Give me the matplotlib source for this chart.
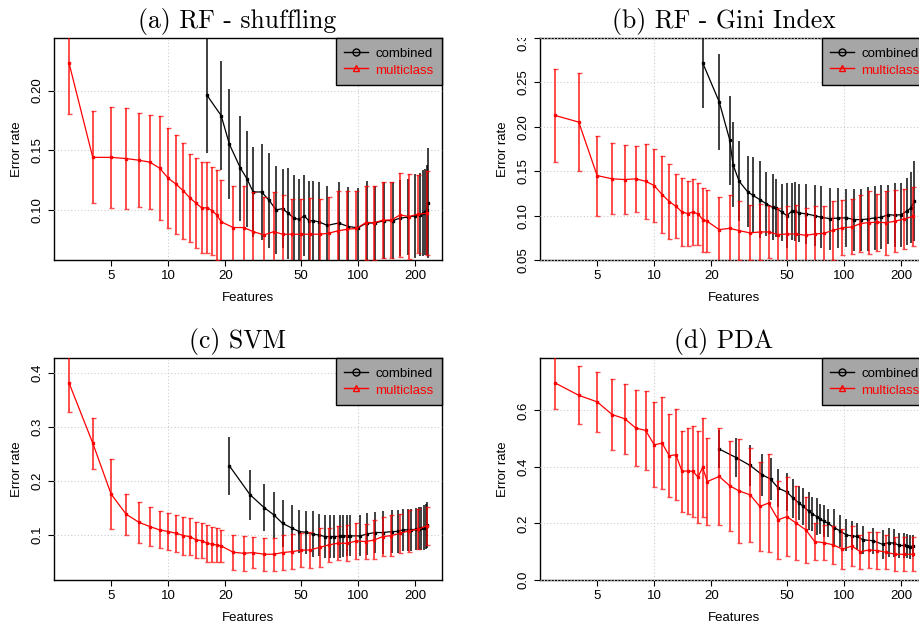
import matplotlib
matplotlib.use("Agg")
import matplotlib.pyplot as plt
from matplotlib.lines import Line2D
from matplotlib.ticker import FixedLocator, NullLocator
from matplotlib.transforms import Bbox, TransformedBbox

plt.rcParams['font.family'] = ['Liberation Sans', 'DejaVu Sans']

# -----------------------------------
# Data
# -----------------------------------
feat_multi = [3, 4, 5, 6, 7, 8, 9, 10, 11, 12, 13, 14, 15, 16, 17, 18, 19,
              22, 25, 28, 32, 36, 40, 45, 50, 56, 63, 70, 78, 88, 98, 110,
              122, 135, 150, 167, 185, 207, 230]

# (a) RF - shuffling
a_multi = [0.223, 0.144, 0.144, 0.143, 0.1416, 0.140, 0.135, 0.1265, 0.1215, 0.116,
           0.110, 0.1056, 0.1017, 0.1017, 0.0994, 0.0958, 0.090, 0.0852, 0.0852, 0.0818,
           0.079, 0.0818, 0.0796, 0.0796, 0.0796, 0.0796, 0.0796, 0.0804, 0.0824, 0.0838,
           0.0844, 0.0894, 0.0894, 0.0913, 0.0916, 0.0958, 0.0944, 0.0964, 0.0972]
a_multi_sd = [0.043, 0.0386, 0.0426, 0.042, 0.0395, 0.0395, 0.0435, 0.042, 0.0415, 0.040,
              0.037, 0.0375, 0.038, 0.038, 0.0368, 0.0377, 0.035, 0.0344, 0.0344, 0.033,
              0.0316, 0.033, 0.033, 0.0294, 0.0294, 0.0304, 0.0294, 0.0306, 0.0336, 0.0316,
              0.031, 0.031, 0.031, 0.0317, 0.032, 0.035, 0.0356, 0.0326, 0.035]
a_feat_comb = [16, 19, 21, 24, 26, 28, 31, 34, 37, 40, 43, 46, 49, 52, 55, 58, 62, 69,
               79, 89, 100, 111, 123, 137, 152, 166, 184, 200, 212, 221, 226, 230, 233]
a_comb = [0.196, 0.179, 0.155, 0.135, 0.126, 0.115, 0.115, 0.108, 0.100, 0.101, 0.097,
          0.093, 0.092, 0.095, 0.091, 0.091, 0.090, 0.087, 0.089, 0.086, 0.085, 0.089,
          0.089, 0.091, 0.091, 0.093, 0.094, 0.095, 0.096, 0.097, 0.098, 0.100, 0.106]
a_comb_sd = [0.048, 0.046, 0.046, 0.044, 0.040, 0.038, 0.040, 0.040, 0.037, 0.033, 0.038,
             0.036, 0.034, 0.034, 0.033, 0.033, 0.033, 0.033, 0.034, 0.033, 0.033, 0.035,
             0.031, 0.032, 0.032, 0.032, 0.032, 0.035, 0.035, 0.036, 0.036, 0.038, 0.046]

# (b) RF - Gini Index
b_multi = [0.2128, 0.2053, 0.1451, 0.1414, 0.1406, 0.1414, 0.1387, 0.1338, 0.1237, 0.1158,
           0.1105, 0.1041, 0.1023, 0.1041, 0.1019, 0.0955, 0.0936, 0.0842, 0.0857, 0.0831,
           0.0805, 0.0816, 0.0816, 0.0786, 0.0793, 0.0793, 0.0778, 0.0793, 0.0800, 0.0835,
           0.0862, 0.0872, 0.091, 0.0922, 0.0925, 0.0920, 0.0936, 0.0962, 0.0990]
b_multi_sd = [0.052, 0.055, 0.045, 0.040, 0.039, 0.037, 0.042, 0.041, 0.043, 0.042,
              0.036, 0.038, 0.037, 0.037, 0.035, 0.036, 0.035, 0.037, 0.037, 0.033,
              0.031, 0.032, 0.029, 0.030, 0.031, 0.033, 0.031, 0.031, 0.031, 0.033,
              0.031, 0.031, 0.032, 0.036, 0.032, 0.036, 0.035, 0.034, 0.033]
b_feat_comb = [18, 22, 25, 26, 28, 31, 33, 36, 39, 42, 44, 47, 50, 53, 55, 58, 63, 70,
               76, 84, 93, 103, 113, 123, 134, 145, 157, 171, 185, 200, 214, 225, 235]
b_comb = [0.272, 0.228, 0.185, 0.1575, 0.1387, 0.127, 0.123, 0.118, 0.1132, 0.1094,
          0.1086, 0.1038, 0.100, 0.1049, 0.1049, 0.103, 0.102, 0.100, 0.0981, 0.0966,
          0.0972, 0.0975, 0.0955, 0.0955, 0.0962, 0.0974, 0.0981, 0.1011, 0.1004, 0.1011,
          0.1049, 0.1086, 0.1162]
b_comb_sd = [0.051, 0.054, 0.050, 0.048, 0.045, 0.040, 0.043, 0.043, 0.036, 0.037,
             0.033, 0.032, 0.037, 0.032, 0.033, 0.033, 0.034, 0.034, 0.035, 0.035,
             0.034, 0.033, 0.035, 0.035, 0.036, 0.036, 0.036, 0.033, 0.036, 0.036,
             0.038, 0.040, 0.045]

# (c) SVM
c_multi = [0.381, 0.270, 0.1758, 0.1388, 0.124, 0.116, 0.1099, 0.1068, 0.1037, 0.0994,
           0.0975, 0.0914, 0.0901, 0.0852, 0.0834, 0.0821, 0.0803, 0.0686, 0.0667, 0.068,
           0.0649, 0.0649, 0.068, 0.0698, 0.0723, 0.0729, 0.0778, 0.0821, 0.0852, 0.0852,
           0.0895, 0.0883, 0.0914, 0.0975, 0.0994, 0.1037, 0.108, 0.111, 0.1172]
c_multi_sd = [0.054, 0.047, 0.064, 0.038, 0.038, 0.036, 0.034, 0.034, 0.034, 0.035,
              0.034, 0.033, 0.032, 0.034, 0.032, 0.031, 0.030, 0.032, 0.032, 0.028,
              0.030, 0.030, 0.033, 0.033, 0.031, 0.033, 0.036, 0.031, 0.031, 0.033,
              0.033, 0.032, 0.036, 0.036, 0.038, 0.036, 0.039, 0.037, 0.035]
c_feat_comb = [21, 27, 32, 36, 40, 45, 49, 53, 58, 62, 67, 71, 75, 80, 83, 87, 91, 103,
               112, 123, 135, 151, 162, 172, 183, 191, 201, 209, 216, 222, 227, 232]
c_comb = [0.228, 0.1746, 0.151, 0.1376, 0.122, 0.1129, 0.1068, 0.1055, 0.1018, 0.1006,
          0.0975, 0.0975, 0.0975, 0.098, 0.0985, 0.0988, 0.0988, 0.0988, 0.1025, 0.105,
          0.105, 0.1068, 0.107, 0.1099, 0.110, 0.110, 0.111, 0.112, 0.113, 0.114, 0.116,
          0.119]
c_comb_sd = [0.053, 0.046, 0.043, 0.043, 0.043, 0.042, 0.040, 0.040, 0.042, 0.039,
             0.040, 0.040, 0.040, 0.040, 0.039, 0.038, 0.038, 0.038, 0.039, 0.038,
             0.039, 0.039, 0.040, 0.039, 0.039, 0.039, 0.039, 0.040, 0.040, 0.041,
             0.042, 0.043]

# (d) PDA
d_multi = [0.697, 0.653, 0.630, 0.585, 0.570, 0.537, 0.529, 0.478, 0.484, 0.439,
           0.443, 0.384, 0.386, 0.384, 0.364, 0.398, 0.348, 0.366, 0.333, 0.315,
           0.301, 0.260, 0.272, 0.213, 0.224, 0.201, 0.177, 0.136, 0.132, 0.124,
           0.109, 0.120, 0.100, 0.106, 0.104, 0.098, 0.091, 0.091, 0.091]
d_multi_sd = [0.092, 0.103, 0.107, 0.127, 0.124, 0.135, 0.141, 0.150, 0.162, 0.147,
              0.160, 0.144, 0.152, 0.160, 0.163, 0.175, 0.154, 0.170, 0.160, 0.185,
              0.165, 0.157, 0.174, 0.138, 0.140, 0.130, 0.118, 0.066, 0.062, 0.068,
              0.070, 0.070, 0.060, 0.062, 0.065, 0.060, 0.060, 0.060, 0.060]
d_feat_comb = [22, 27, 32, 37, 41, 45, 50, 54, 58, 61, 65, 68, 72, 75, 78, 82, 89, 95,
               103, 110, 117, 126, 142, 160, 172, 184, 196, 208, 216, 224, 230]
d_comb = [0.463, 0.433, 0.405, 0.372, 0.357, 0.325, 0.311, 0.289, 0.272, 0.260, 0.244,
          0.234, 0.224, 0.215, 0.209, 0.201, 0.185, 0.174, 0.159, 0.156, 0.154, 0.142,
          0.139, 0.126, 0.132, 0.130, 0.122, 0.122, 0.120, 0.118, 0.120]
d_comb_sd = [0.066, 0.070, 0.071, 0.075, 0.074, 0.067, 0.067, 0.069, 0.061, 0.065, 0.067,
             0.059, 0.065, 0.053, 0.057, 0.050, 0.065, 0.056, 0.057, 0.051, 0.047, 0.050,
             0.046, 0.050, 0.051, 0.050, 0.045, 0.043, 0.043, 0.042, 0.039]

x_ticks = [5, 10, 20, 50, 100, 200]

# -----------------------------------
# Panel layout (pixel boxes of the reference)
# -----------------------------------
W, H = 920, 625
panels = [
    dict(box=(54, 38, 442, 260), title="(a) RF - shuffling", ylim=(0.058, 0.244),
         yticks=[0.10, 0.15, 0.20], ylabels=["0.10", "0.15", "0.20"],
         multi=a_multi, multi_sd=a_multi_sd, fc=a_feat_comb, comb=a_comb, comb_sd=a_comb_sd),
    dict(box=(540, 38, 928, 260), title="(b) RF - Gini Index", ylim=(0.05, 0.30),
         yticks=[0.05, 0.10, 0.15, 0.20, 0.25, 0.30],
         ylabels=["0.05", "0.10", "0.15", "0.20", "0.25", "0.30"],
         multi=b_multi, multi_sd=b_multi_sd, fc=b_feat_comb, comb=b_comb, comb_sd=b_comb_sd),
    dict(box=(54, 358, 442, 580), title="(c) SVM", ylim=(0.0174, 0.427),
         yticks=[0.1, 0.2, 0.3, 0.4], ylabels=["0.1", "0.2", "0.3", "0.4"],
         multi=c_multi, multi_sd=c_multi_sd, fc=c_feat_comb, comb=c_comb, comb_sd=c_comb_sd),
    dict(box=(540, 358, 928, 580), title="(d) PDA", ylim=(0.0, 0.785),
         yticks=[0.0, 0.2, 0.4, 0.6], ylabels=["0.0", "0.2", "0.4", "0.6"],
         multi=d_multi, multi_sd=d_multi_sd, fc=d_feat_comb, comb=d_comb, comb_sd=d_comb_sd),
]

fig = plt.figure(figsize=(W / 100, H / 100), dpi=100)
grid_kw = dict(color="#cccccc", lw=0.8, ls=(0, (1, 2)), zorder=3, clip_on=False)

for p in panels:
    x0, y0, x1, y1 = p["box"]
    ax = fig.add_axes([x0 / W, 1 - y1 / H, (x1 - x0) / W, (y1 - y0) / H])
    ax.set_xscale("log")
    ax.set_xlim(2.5, 277)
    ax.set_ylim(*p["ylim"])

    # grid (R style: dotted, at y ticks and powers of ten)
    for v in p["yticks"]:
        ax.axhline(v, **grid_kw)
    for v in [10, 100]:
        ax.axvline(v, **grid_kw)

    # combined (black)
    ax.errorbar(p["fc"], p["comb"], yerr=p["comb_sd"], fmt="none", ecolor="black",
                elinewidth=1.4, capsize=0, alpha=0.75, zorder=4)
    ax.plot(p["fc"], p["comb"], color="black", lw=0.9, marker="s", ms=2.0, zorder=5)

    # multiclass (red)
    ax.errorbar(feat_multi, p["multi"], yerr=p["multi_sd"], fmt="none", ecolor="red",
                elinewidth=1.4, capsize=1.8, capthick=1.0, alpha=0.7, zorder=6)
    ax.plot(feat_multi, p["multi"], color="red", lw=0.9, marker="s", ms=2.0, zorder=7)

    # axes styling
    for s in ax.spines.values():
        s.set_linewidth(1.0)
    ax.xaxis.set_major_locator(FixedLocator(x_ticks))
    ax.xaxis.set_minor_locator(NullLocator())
    ax.set_xticklabels([str(t) for t in x_ticks])
    ax.set_yticks(p["yticks"])
    ax.set_yticklabels(p["ylabels"])
    ax.tick_params(axis="both", direction="out", length=4, width=0.8, labelsize=9.5, pad=3.5)
    for lbl in ax.get_yticklabels():
        lbl.set_rotation(90)
        lbl.set_va("center")
        # clip labels at the panel's top edge, as in the reference
        lbl.set_clip_box(TransformedBbox(Bbox.from_extents(0, 0, 1, 1 - y0 / H), fig.transFigure))
        lbl.set_clip_on(True)

    ax.set_xlabel("Features", fontsize=9.5, labelpad=7)
    ax.set_ylabel("Error rate", fontsize=9.5, labelpad=6)
    ax.set_title(p["title"], family="cmr10", fontsize=18.5, x=0.473, pad=7)

    handles = [
        Line2D([], [], color="black", lw=1, marker="o", mfc="none", ms=5),
        Line2D([], [], color="red", lw=1, marker="^", mfc="none", ms=5),
    ]
    leg = ax.legend(handles, ["combined", "multiclass"], loc="upper right", borderaxespad=0,
                    fancybox=False, facecolor="#a6a6a6", edgecolor="black", framealpha=1,
                    labelcolor="linecolor", fontsize=9.5, handlelength=1.8, handleheight=1.2,
                    handletextpad=0.6, borderpad=0.62, labelspacing=0.18)
    leg.get_frame().set_linewidth(1.0)
    leg.set_zorder(10)

fig.savefig("out.png", dpi=100)
